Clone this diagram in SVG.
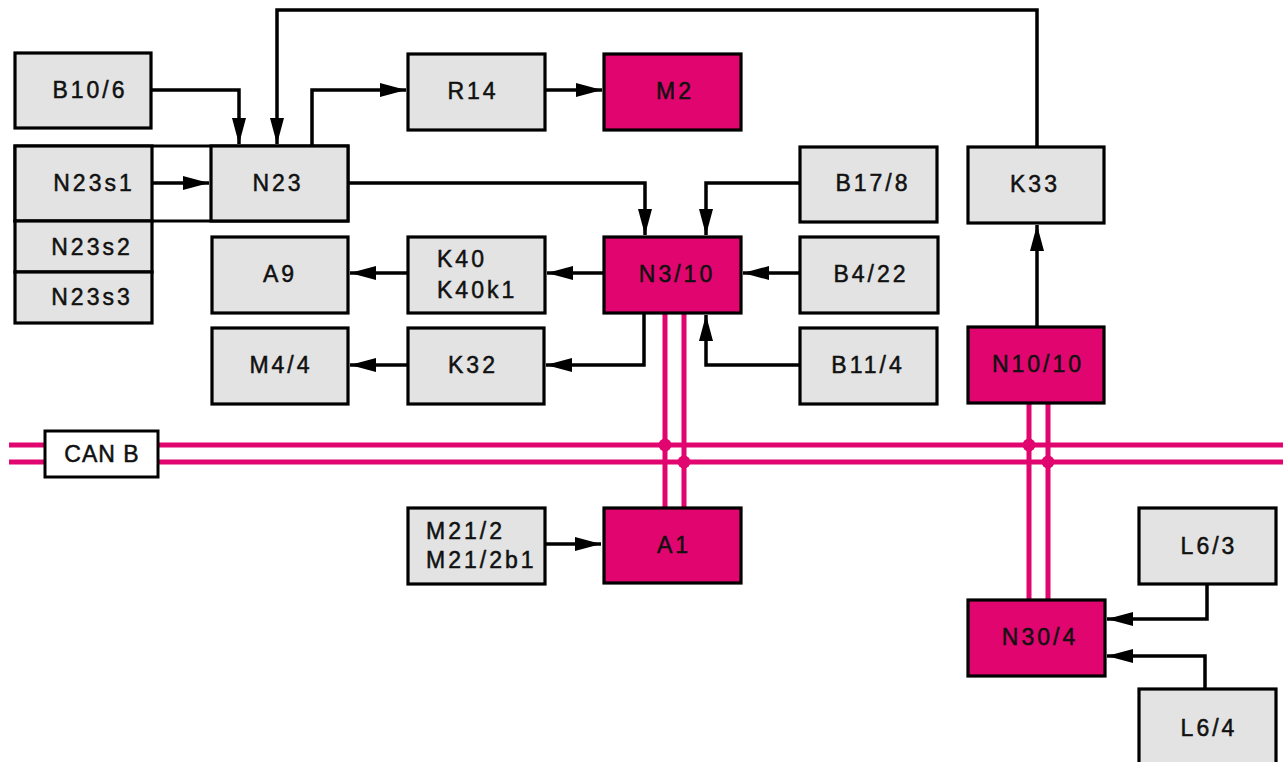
<svg xmlns="http://www.w3.org/2000/svg" width="1283" height="762" viewBox="0 0 1283 762">
<style>
.g{fill:#E2E3E2;stroke:#000;stroke-width:3.2}
.m{fill:#E1056F;stroke:#000;stroke-width:3.2}
.w{fill:#fff;stroke:#000;stroke-width:3}
text{font-family:"Liberation Sans",Arial,sans-serif;font-size:23px;fill:#111;stroke:#111;stroke-width:0.5px;letter-spacing:3px}
.c{text-anchor:middle}
.ln{fill:none;stroke:#000;stroke-width:3.5}
.bus{fill:none;stroke:#E1056F;stroke-width:5}
</style>
<defs>
<marker id="ah" markerUnits="userSpaceOnUse" markerWidth="28" markerHeight="16" refX="26" refY="7" orient="auto">
<path d="M0,0 L26,7 L0,14 z" fill="#000"/>
</marker>
</defs>
<g id="bus">
<path class="bus" d="M9,445 H1283 M9,462 H1283"/>
<path class="bus" d="M665,313 V508 M684,313 V508"/>
<path class="bus" d="M1029,403 V600 M1048,403 V600"/>
<circle cx="665" cy="445" r="6.5" fill="#E1056F"/>
<circle cx="684" cy="462" r="6.5" fill="#E1056F"/>
<circle cx="1029" cy="445" r="6.5" fill="#E1056F"/>
<circle cx="1048" cy="462" r="6.5" fill="#E1056F"/>
</g>
<g id="n23group"><rect class="w" x="15" y="146" width="333" height="75"/></g>
<g id="connectors">
<path class="ln" d="M151,90 H239 V144" marker-end="url(#ah)"/>
<path class="ln" d="M1037,147 V10 H277 V144" marker-end="url(#ah)"/>
<path class="ln" d="M312,146 V90 H406" marker-end="url(#ah)"/>
<path class="ln" d="M545,90 H602" marker-end="url(#ah)"/>
<path class="ln" d="M152,183 H209" marker-end="url(#ah)"/>
<path class="ln" d="M348,183 H645 V235" marker-end="url(#ah)"/>
<path class="ln" d="M800,183 H706 V235" marker-end="url(#ah)"/>
<path class="ln" d="M800,273 H743" marker-end="url(#ah)"/>
<path class="ln" d="M604,273 H547" marker-end="url(#ah)"/>
<path class="ln" d="M408,273 H350" marker-end="url(#ah)"/>
<path class="ln" d="M644,313 V365 H546" marker-end="url(#ah)"/>
<path class="ln" d="M408,365 H350" marker-end="url(#ah)"/>
<path class="ln" d="M800,365 H706 V315" marker-end="url(#ah)"/>
<path class="ln" d="M1037,327 V225" marker-end="url(#ah)"/>
<path class="ln" d="M545,544 H601" marker-end="url(#ah)"/>
<path class="ln" d="M1207,584 V619 H1107" marker-end="url(#ah)"/>
<path class="ln" d="M1205,689 V656 H1107" marker-end="url(#ah)"/>
</g>
<g id="B10_6"><rect class="g" x="15" y="53" width="136" height="75"/><text class="c" x="90" y="98">B10/6</text></g>
<g id="N23s1"><rect class="g" x="15" y="146" width="137" height="75"/><text class="c" x="94" y="191">N23s1</text></g>
<g id="N23s2"><rect class="g" x="15" y="221" width="137" height="51"/><text class="c" x="92" y="255">N23s2</text></g>
<g id="N23s3"><rect class="g" x="15" y="272" width="137" height="51"/><text class="c" x="92" y="305">N23s3</text></g>
<g id="N23"><rect class="g" x="211" y="146" width="137" height="75"/><text class="c" x="278" y="191">N23</text></g>
<g id="R14"><rect class="g" x="408" y="54" width="137" height="76"/><text class="c" x="473" y="99">R14</text></g>
<g id="M2"><rect class="m" x="604" y="54" width="137" height="76"/><text class="c" x="675" y="99">M2</text></g>
<g id="A9"><rect class="g" x="212" y="237" width="136" height="76"/><text class="c" x="280" y="282">A9</text></g>
<g id="K40"><rect class="g" x="408" y="237" width="137" height="76"/><text x="437" y="267">K40</text><text x="437" y="298">K40k1</text></g>
<g id="N3_10"><rect class="m" x="604" y="237" width="137" height="76"/><text class="c" x="677" y="282">N3/10</text></g>
<g id="B17_8"><rect class="g" x="800" y="147" width="137" height="75"/><text class="c" x="873" y="191">B17/8</text></g>
<g id="B4_22"><rect class="g" x="800" y="237" width="138" height="76"/><text class="c" x="871" y="282">B4/22</text></g>
<g id="B11_4"><rect class="g" x="800" y="328" width="137" height="76"/><text class="c" x="868" y="373">B11/4</text></g>
<g id="K33"><rect class="g" x="968" y="147" width="136" height="76"/><text class="c" x="1035" y="192">K33</text></g>
<g id="N10_10"><rect class="m" x="968" y="327" width="136" height="76"/><text class="c" x="1038" y="372">N10/10</text></g>
<g id="M4_4"><rect class="g" x="212" y="328" width="136" height="76"/><text class="c" x="281" y="373">M4/4</text></g>
<g id="K32"><rect class="g" x="408" y="328" width="136" height="76"/><text class="c" x="473" y="373">K32</text></g>
<g id="CAN_B"><rect class="w" x="45" y="431" width="113" height="46"/><text class="c" x="102" y="462" style="letter-spacing:1px">CAN B</text></g>
<g id="M21_2"><rect class="g" x="408" y="508" width="137" height="76"/><text x="426" y="539">M21/2</text><text x="426" y="568">M21/2b1</text></g>
<g id="A1"><rect class="m" x="604" y="508" width="137" height="75"/><text class="c" x="674" y="553">A1</text></g>
<g id="L6_3"><rect class="g" x="1139" y="508" width="137" height="76"/><text class="c" x="1209" y="554">L6/3</text></g>
<g id="N30_4"><rect class="m" x="968" y="600" width="137" height="76"/><text class="c" x="1040" y="645">N30/4</text></g>
<g id="L6_4"><rect class="g" x="1139" y="689" width="137" height="80"/><text class="c" x="1209" y="736">L6/4</text></g>
</svg>
